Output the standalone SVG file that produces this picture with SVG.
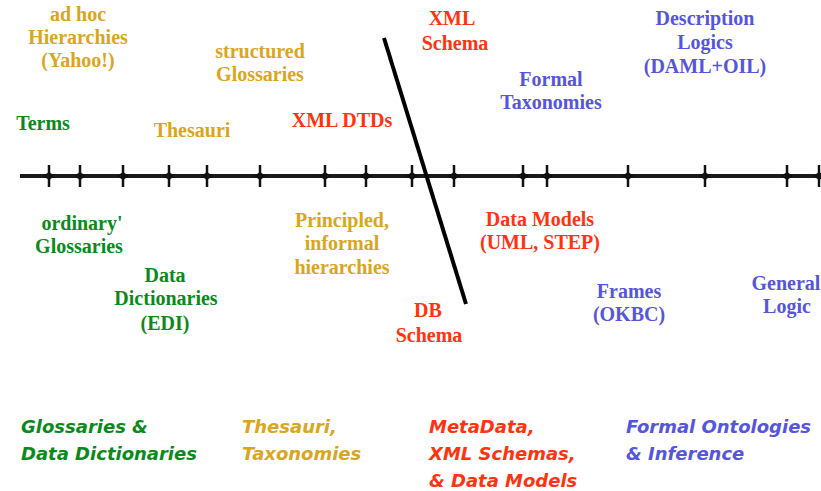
<svg xmlns="http://www.w3.org/2000/svg" width="821" height="491" viewBox="0 0 821 491">
<defs>
<style>
.lbl{font-family:"Liberation Serif","Times New Roman",serif;font-weight:bold;font-size:20px;text-anchor:middle}
.leg{font-family:"DejaVu Sans",sans-serif;font-weight:bold;font-style:oblique;font-size:18px}
.g{fill:#0A8A1A}.y{fill:#DAA520}.r{fill:#FF3311}.b{fill:#5555DD}
.tick{stroke:#111;stroke-width:2.5;fill:#111}
</style>
<g id="tk"><line class="tick" x1="0" y1="-11" x2="0" y2="11"/><path d="M-6,0 L0,-4 L6,0 L0,4 Z" fill="#111"/></g>
</defs>
<rect width="821" height="491" fill="#fff"/>
<g id="connectors">
<line x1="20" y1="176" x2="821" y2="176" stroke="#1a1a1a" stroke-width="4"/>
<use href="#tk" x="49" y="176"/><use href="#tk" x="80" y="176"/><use href="#tk" x="123" y="176"/>
<use href="#tk" x="169" y="176"/><use href="#tk" x="207" y="176"/><use href="#tk" x="260" y="176"/>
<use href="#tk" x="325" y="176"/><use href="#tk" x="366" y="176"/><use href="#tk" x="412" y="176"/>
<use href="#tk" x="454" y="176"/><use href="#tk" x="523" y="176"/><use href="#tk" x="547" y="176"/>
<use href="#tk" x="628" y="176"/><use href="#tk" x="705" y="176"/><use href="#tk" x="787" y="176"/>
<use href="#tk" x="819" y="176"/>
<line x1="384" y1="38" x2="466" y2="304" stroke="#000" stroke-width="4"/>
</g>
<g id="adhoc" class="lbl y"><text x="78" y="21">ad hoc</text><text x="78" y="44">Hierarchies</text><text x="78" y="67">(Yahoo!)</text></g>
<g id="structured" class="lbl y"><text x="260" y="58">structured</text><text x="260" y="81">Glossaries</text></g>
<g id="thesauri" class="lbl y"><text x="192" y="137">Thesauri</text></g>
<g id="principled" class="lbl y"><text x="342" y="227">Principled,</text><text x="342" y="250">informal</text><text x="342" y="274">hierarchies</text></g>
<g id="terms" class="lbl g"><text x="43" y="130">Terms</text></g>
<g id="ordinary" class="lbl g"><text x="82" y="230">ordinary'</text><text x="79" y="253">Glossaries</text></g>
<g id="datadict" class="lbl g"><text x="165" y="282">Data</text><text x="166" y="305">Dictionaries</text><text x="165" y="330">(EDI)</text></g>
<g id="xmldtd" class="lbl r"><text x="342" y="127">XML DTDs</text></g>
<g id="xmlschema" class="lbl r"><text x="452" y="25">XML</text><text x="455" y="50">Schema</text></g>
<g id="datamodels" class="lbl r"><text x="540" y="226">Data Models</text><text x="540" y="249">(UML, STEP)</text></g>
<g id="dbschema" class="lbl r"><text x="428" y="317">DB</text><text x="429" y="342">Schema</text></g>
<g id="formaltax" class="lbl b"><text x="551" y="86">Formal</text><text x="551" y="109">Taxonomies</text></g>
<g id="dl" class="lbl b"><text x="705" y="25">Description</text><text x="705" y="49">Logics</text><text x="705" y="73">(DAML+OIL)</text></g>
<g id="frames" class="lbl b"><text x="629" y="298">Frames</text><text x="629" y="321">(OKBC)</text></g>
<g id="general" class="lbl b"><text x="786" y="290">General</text><text x="787" y="313">Logic</text></g>
<g id="leg1" class="leg g"><text x="21" y="433">Glossaries &amp;</text><text x="21" y="460">Data Dictionaries</text></g>
<g id="leg2" class="leg y"><text x="242" y="433">Thesauri,</text><text x="242" y="460">Taxonomies</text></g>
<g id="leg3" class="leg r"><text x="429" y="433">MetaData,</text><text x="429" y="460">XML Schemas,</text><text x="429" y="487">&amp; Data Models</text></g>
<g id="leg4" class="leg b"><text x="626" y="433">Formal Ontologies</text><text x="626" y="460">&amp; Inference</text></g>
</svg>
